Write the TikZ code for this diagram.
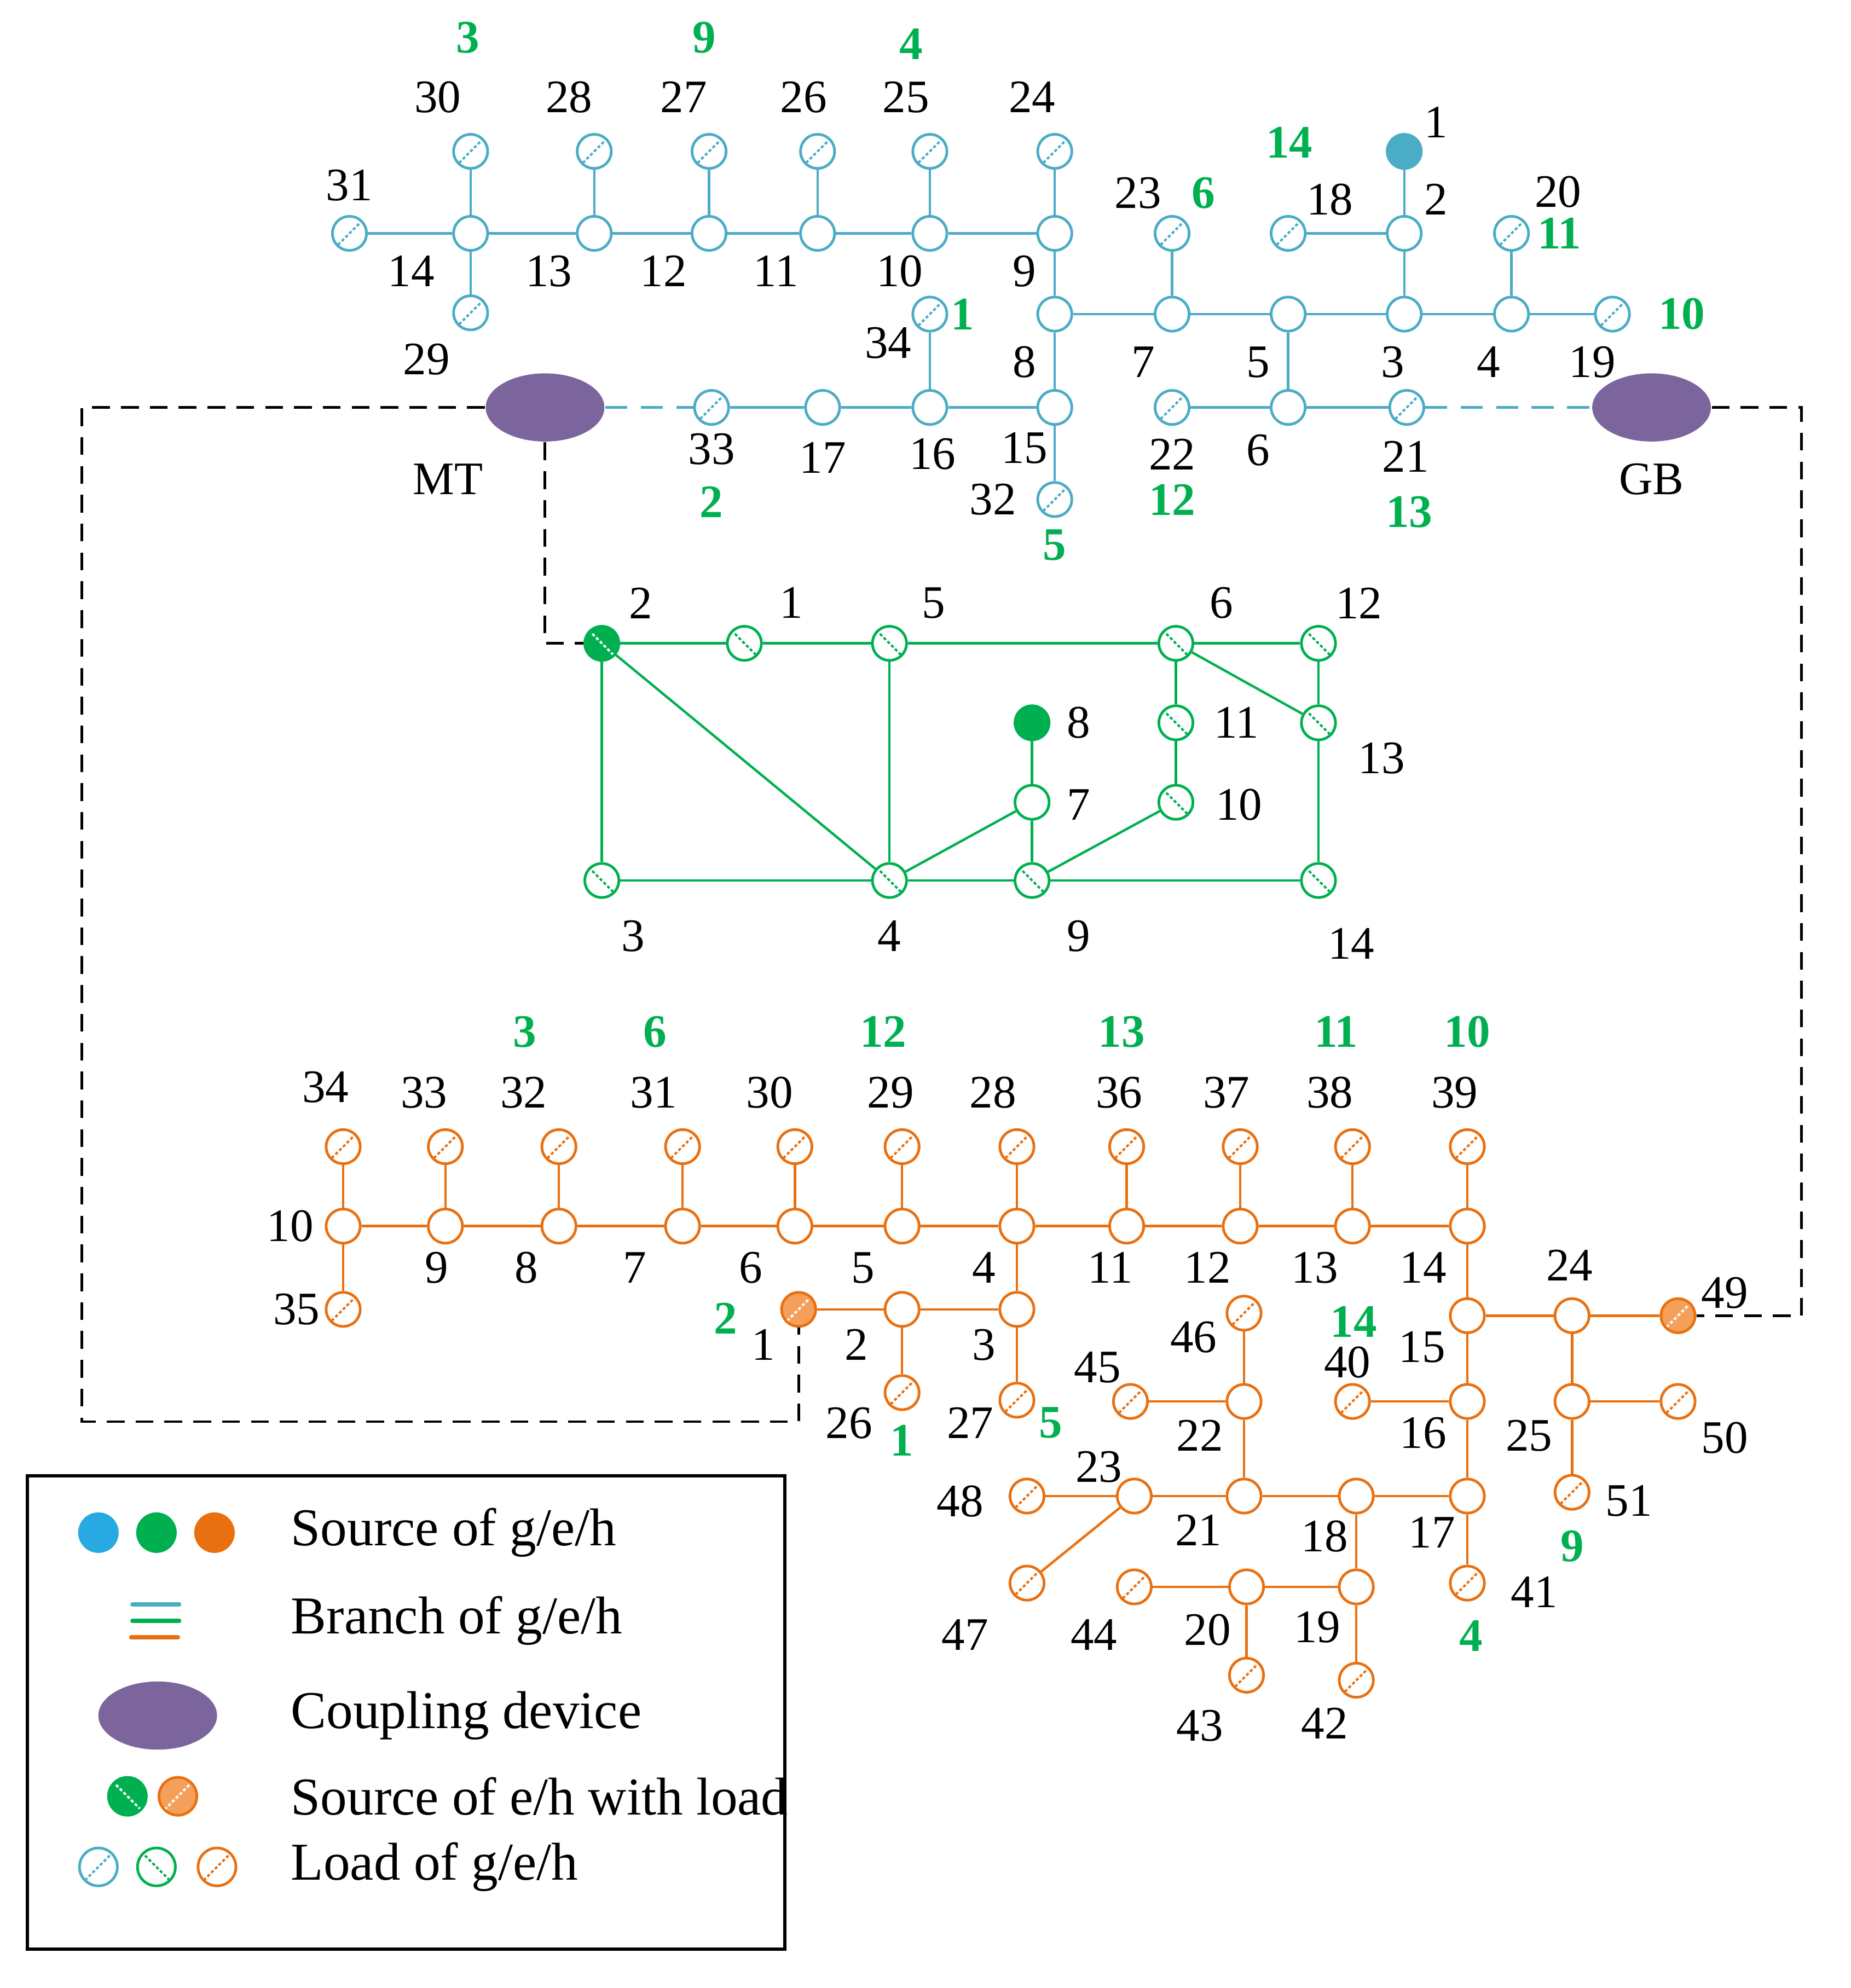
\documentclass[tikz,border=0pt]{standalone}
\usepackage{fontspec}
\setmainfont{Liberation Serif}
\usetikzlibrary{shapes.geometric}
\definecolor{gc}{HTML}{4BACC6}
\definecolor{ec}{HTML}{00B050}
\definecolor{hc}{HTML}{E97010}
\definecolor{hf}{HTML}{F4A05A}
\definecolor{pc}{HTML}{7B659C}
\begin{document}
\begin{tikzpicture}[x=0.01cm,y=-0.01cm,
 nd/.style={circle,line width=0.6pt,minimum size=0.27cm,inner sep=0pt,fill=white},
 gp/.style={nd,draw=gc}, ep/.style={nd,draw=ec}, hp/.style={nd,draw=hc},
 sl/.style={line width=0.5pt,dash pattern=on 0.7pt off 0.5pt},
 gl/.style={gp,path picture={\draw[gc,sl] (path picture bounding box.north east)--(path picture bounding box.south west);}},
 hl/.style={hp,path picture={\draw[hc,sl] (path picture bounding box.north east)--(path picture bounding box.south west);}},
 el/.style={ep,path picture={\draw[ec,sl] (path picture bounding box.north west)--(path picture bounding box.south east);}},
 gs/.style={nd,draw=gc,fill=gc},
 es/.style={nd,draw=ec,fill=ec},
 hs/.style={nd,draw=hc,fill=hc},
 esl/.style={es,path picture={\draw[white,sl] (path picture bounding box.north west)--(path picture bounding box.south east);}},
 hsl/.style={nd,draw=hc,fill=hf,path picture={\draw[white,sl] (path picture bounding box.north east)--(path picture bounding box.south west);}},
 cp/.style={ellipse,fill=pc,minimum width=0.94cm,minimum height=0.54cm,inner sep=0pt},
 lab/.style={font=\fontsize{10.5}{12}\selectfont,inner sep=0pt},
 glab/.style={lab,text=ec,font=\fontsize{10.5}{12}\selectfont\bfseries},
 leglab/.style={lab,anchor=west,font=\fontsize{12}{14}\selectfont},
 gw/.style={gc,line width=0.55pt}, ew/.style={ec,line width=0.55pt}, hw/.style={hc,line width=0.55pt},
 bd/.style={black,line width=0.6pt,dash pattern=on 4pt off 2.5pt}]
\useasboundingbox (0,0) rectangle (1467,1576);
% ---------- gas ----------
\foreach \n/\x/\y in {14/373/185,13/471/185,12/562/185,11/648/185,10/737/185,9/836/185,8/836/249,7/929/249,5/1021/249,3/1113/249,2/1113/185,4/1198/249,15/836/323,16/737/323,17/652/323,6/1021/323}
 \node[gp] (g\n) at (\x,\y) {};
\foreach \n/\x/\y in {31/277/185,30/373/120,29/373/248,28/471/120,27/562/120,26/648/120,25/737/120,24/836/120,23/929/185,18/1021/185,20/1198/185,19/1278/249,32/836/396,34/737/249,33/564/323,22/929/323,21/1115/323}
 \node[gl] (g\n) at (\x,\y) {};
\node[gs] (g1) at (1113,120) {};
\node[cp] (MT) at (432,323) {};
\node[cp] (GB) at (1309,323) {};
\foreach \a/\b in {31/14,14/13,13/12,12/11,11/10,10/9,30/14,14/29,28/13,27/12,26/11,25/10,24/9,9/8,8/15,15/32,8/7,7/5,5/3,3/4,4/19,23/7,5/6,6/22,6/21,3/2,2/1,2/18,20/4,15/16,16/17,17/33,16/34}
 \draw[gw] (g\a) -- (g\b);
\draw[gw,dash pattern=on 5pt off 3pt] (MT) -- (g33);
\draw[gw,dash pattern=on 5pt off 3pt] (g21) -- (GB);
% ---------- electricity ----------
\node[esl] (e2) at (477,510) {};
\foreach \n/\x/\y in {1/590/510,5/705/510,6/932/510,12/1045/510,11/932/573,13/1045/573,10/932/636,3/477/698,4/705/698,9/818/698,14/1045/698}
 \node[el] (e\n) at (\x,\y) {};
\node[es] (e8) at (818,573) {};
\node[ep] (e7) at (818,636) {};
\foreach \a/\b in {2/1,1/5,5/6,6/12,2/3,2/4,5/4,3/4,4/9,9/14,12/13,13/14,6/13,6/11,11/10,10/9,4/7,7/8,7/9}
 \draw[ew] (e\a) -- (e\b);
% ---------- heat ----------
\foreach \n/\x in {10/272,9/353,8/443,7/541,6/630,5/715,4/806,11/893,12/983,13/1072,14/1163}
 \node[hp] (h\n) at (\x,972) {};
\foreach \n/\x in {34/272,33/353,32/443,31/541,30/630,29/715,28/806,36/893,37/983,38/1072,39/1163}
 \node[hl] (h\n) at (\x,909) {};
\foreach \n/\x/\y in {3/806/1038,2/715/1038,15/1163/1043,24/1246/1043,25/1246/1111,16/1163/1111,17/1163/1186,18/1075/1186,21/986/1186,22/986/1111,23/899/1186,19/1075/1258,20/988/1258}
 \node[hp] (h\n) at (\x,\y) {};
\foreach \n/\x/\y in {35/272/1038,26/715/1104,27/806/1110,50/1330/1111,51/1246/1183,40/1072/1111,41/1163/1255,46/986/1041,45/896/1111,48/814/1186,47/814/1255,42/1075/1332,44/899/1258,43/988/1328}
 \node[hl] (h\n) at (\x,\y) {};
\node[hsl] (h1) at (633,1038) {};
\node[hsl] (h49) at (1330,1043) {};
\foreach \a/\b in {10/9,9/8,8/7,7/6,6/5,5/4,4/11,11/12,12/13,13/14,34/10,33/9,32/8,31/7,30/6,29/5,28/4,36/11,37/12,38/13,39/14,10/35,4/3,3/2,2/1,2/26,3/27,14/15,15/16,16/17,17/41,15/24,24/49,24/25,25/50,25/51,16/40,17/18,18/21,21/23,23/48,23/47,21/22,22/46,22/45,18/19,19/42,19/20,20/44,20/43}
 \draw[hw] (h\a) -- (h\b);
% ---------- coupling dashed ----------
\coordinate (c1) at (65,323); \coordinate (c2) at (65,1127); \coordinate (c3) at (633,1127);
\draw[bd] (MT.west) -- (c1) -- (c2) -- (c3) -- (h1);
\coordinate (c4) at (432,510);
\draw[bd] (MT.south) -- (c4) -- (e2);
\coordinate (c5) at (1428,323); \coordinate (c6) at (1428,1043);
\draw[bd] (GB.east) -- (c5) -- (c6) -- (h49);
% ---------- labels ----------
\foreach \t/\x/\y in {31/277/147,14/326/215,13/435/215,12/526/215,11/615/215,10/713/215,9/812/215,30/347/77,28/451/77,27/542/77,26/637/77,25/718/77,24/818/77,29/338/285,23/902/153,18/1054/158,2/1138/158,1/1138/97,20/1235/152,34/704/272,8/812/287,7/906/287,5/997/287,3/1104/287,4/1180/287,19/1262/287,33/564/356,17/652/363,16/739/360,15/812/355,32/787/396,22/929/360,6/997/357,21/1114/362,MT/355/380,GB/1309/380,
 2/508/478,1/627/478,5/740/478,6/968/478,12/1077/478,8/855/573,11/980/573,13/1095/601,7/855/638,10/982/638,3/502/742,4/705/742,9/855/742,14/1071/748,
 34/258/862,33/336/866,32/415/866,31/518/866,30/610/866,29/706/866,28/787/866,36/887/866,37/972/866,38/1054/866,39/1153/866,10/230/972,35/235/1038,9/346/1005,8/417/1005,7/503/1005,6/595/1005,5/684/1005,4/780/1005,11/880/1005,12/957/1005,13/1042/1005,14/1128/1005,1/605/1066,2/679/1066,3/780/1066,26/673/1128,27/769/1128,24/1244/1003,49/1367/1025,15/1127/1068,46/946/1060,45/870/1084,40/1068/1080,22/951/1138,16/1128/1136,25/1212/1138,50/1367/1140,23/871/1163,48/761/1190,21/950/1213,18/1050/1218,17/1135/1215,51/1291/1190,41/1216/1262,47/765/1296,44/867/1296,20/957/1292,19/1044/1290,43/951/1368,42/1050/1366}
 \node[lab] at (\x,\y) {\t};
\foreach \t/\x/\y in {3/371/30,9/558/30,4/722/35,1/763/249,6/954/153,14/1022/113,11/1236/185,10/1333/249,2/564/398,5/836/432,12/929/396,13/1117/406,
 3/416/818,6/519/818,12/700/818,13/889/818,11/1059/818,10/1163/818,2/575/1045,14/1073/1048,1/715/1142,5/833/1128,9/1246/1226,4/1166/1297}
 \node[glab] at (\x,\y) {\t};
% ---------- legend ----------
\node[draw=black,line width=0.7pt,minimum width=6cm,minimum height=3.75cm,inner sep=0pt] (leg) at (322,1357.5) {};
\node[nd,draw=cyan!70!gc,fill=cyan!70!gc,minimum size=0.3cm] (l1) at (78,1215) {};
\node[es,minimum size=0.3cm] (l2) at (124,1215) {};
\node[hs,minimum size=0.3cm] (l3) at (170,1215) {};
\coordinate (b1) at (105,1272); \coordinate (b1e) at (142,1272);
\coordinate (b2) at (105,1285); \coordinate (b2e) at (142,1285);
\coordinate (b3) at (104,1298); \coordinate (b3e) at (141,1298);
\draw[gc,line width=1pt,line cap=round] (b1) -- (b1e);
\draw[ec,line width=1pt,line cap=round] (b2) -- (b2e);
\draw[hc,line width=1pt,line cap=round] (b3) -- (b3e);
\node[cp] (l4) at (125,1360) {};
\node[esl,minimum size=0.3cm] (l5) at (101,1424) {};
\node[hsl,minimum size=0.3cm] (l6) at (141,1424) {};
\node[gl,minimum size=0.3cm] (l7) at (78,1480) {};
\node[el,minimum size=0.3cm] (l8) at (124,1480) {};
\node[hl,minimum size=0.3cm] (l9) at (172,1480) {};
\node[leglab] (t1) at (230,1215) {Source of g/e/h};
\node[leglab] (t2) at (230,1285) {Branch of g/e/h};
\node[leglab] (t3) at (230,1360) {Coupling device};
\node[leglab] (t4) at (230,1424) {Source of e/h with load};
\node[leglab] (t5) at (230,1480) {Load of g/e/h};
\end{tikzpicture}
\end{document}
